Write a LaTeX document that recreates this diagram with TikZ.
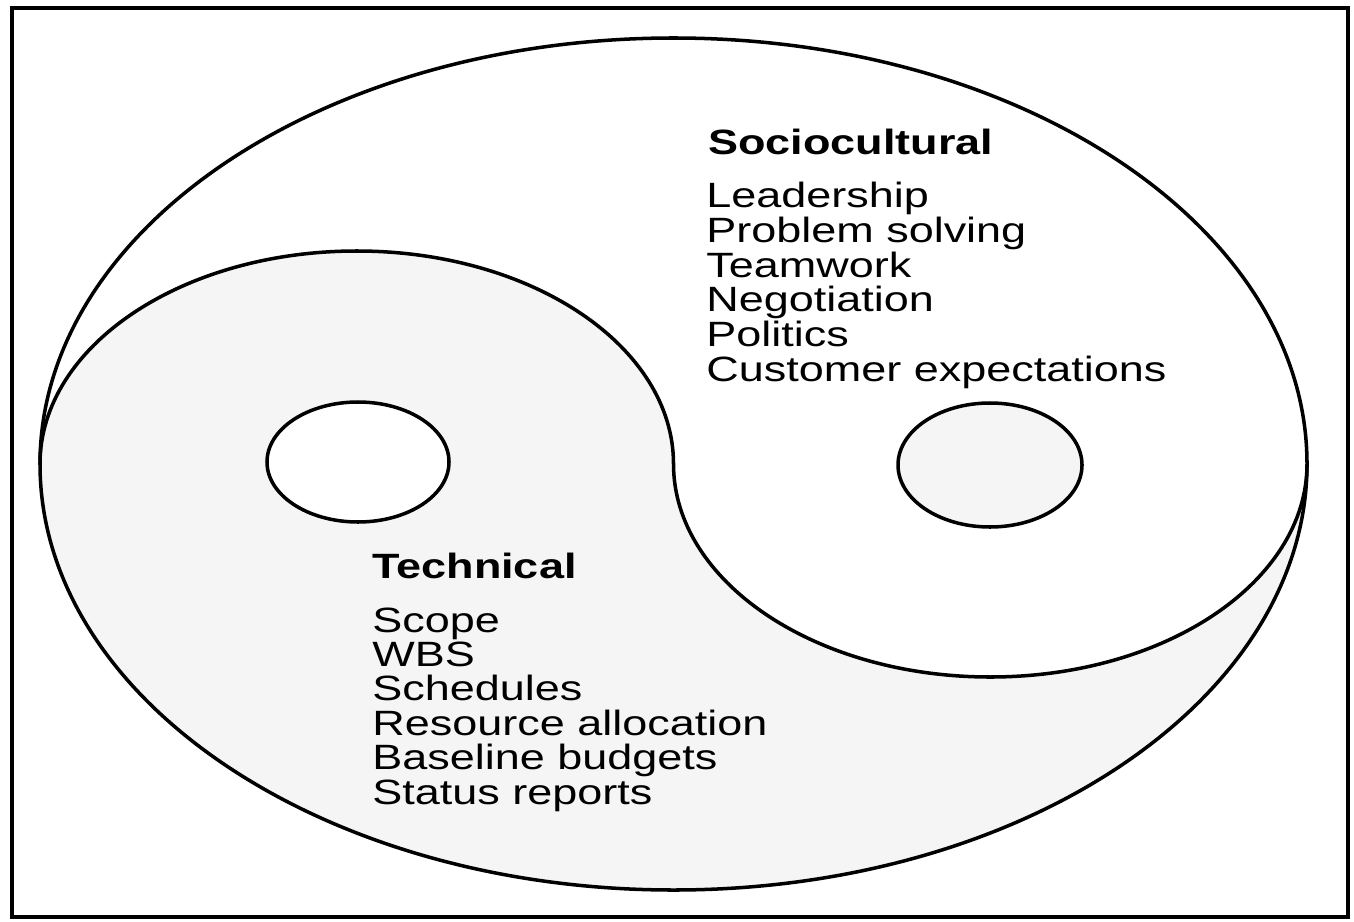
\documentclass[tikz,border=0pt]{standalone}
\usepackage{fontspec}
\newfontfamily\labelfont[FakeStretch=1.28]{Liberation Sans}
\tikzset{
  rim/.style={line width=2pt},
  item/.style={anchor=base west,inner sep=0pt,font=\labelfont\fontsize{20}{24}\selectfont},
  head/.style={item,font=\labelfont\bfseries\fontsize{20}{24}\selectfont}
}

\begin{document}
\begin{tikzpicture}[x=0.02cm,y=0.02cm]
  \useasboundingbox (0,0) rectangle (1354,921);
  \draw[line width=2.2pt] (12,4) rectangle (1348,913);
  % technical side
  \fill[black!4] (40,457) arc[start angle=180,end angle=0,x radius=316.75,y radius=213]
    arc[start angle=180,end angle=360,x radius=316.75,y radius=213]
    arc[start angle=0,end angle=-180,x radius=633.5,y radius=426];
  \draw[rim] (673.5,457) ellipse[x radius=633.5,y radius=426];
  \draw[rim] (40,457) arc[start angle=180,end angle=0,x radius=316.75,y radius=213]
    arc[start angle=180,end angle=360,x radius=316.75,y radius=213];
  \draw[rim,fill=white] (358,459) ellipse[x radius=91,y radius=60];
  \draw[rim,fill=black!4] (990,456) ellipse[x radius=92,y radius=62];
  % sociocultural side
  \node[head] (soc) at (708,766) {Sociocultural};
  \node[item] (s1) at (706,714) {Leadership};
  \node[item] (s2) at (706,679) {Problem solving};
  \node[item] (s3) at (706,644) {Teamwork};
  \node[item] (s4) at (706,610) {Negotiation};
  \node[item] (s5) at (706,575) {Politics};
  \node[item] (s6) at (706,540) {Customer expectations};
  % technical list
  \node[head] (tec) at (372,343) {Technical};
  \node[item] (t1) at (372,289) {Scope};
  \node[item] (t2) at (372,255) {WBS};
  \node[item] (t3) at (372,221) {Schedules};
  \node[item] (t4) at (372,186) {Resource allocation};
  \node[item] (t5) at (372,152) {Baseline budgets};
  \node[item] (t6) at (372,117) {Status reports};
\end{tikzpicture}
\end{document}
